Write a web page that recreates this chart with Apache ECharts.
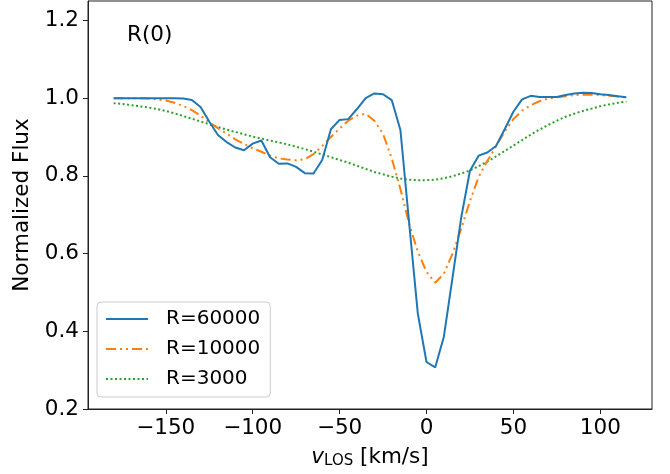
<!DOCTYPE html>
<html>
<head>
<meta charset="utf-8">
<script src="https://cdn.jsdelivr.net/npm/echarts@6/dist/echarts.min.js"></script>
<style>
html,body{margin:0;padding:0;background:#fff;}
#chart{width:670px;height:474px;}
</style>
</head>
<body>
<div id="chart"></div>
<script>
var velocity = [-180,-175,-170,-165,-160,-155,-150,-145,-140,-135,-130,-125,-120,-115,-110,-105,-100,-95,-90,-85,-80,-75,-70,-65,-60,-55,-50,-45,-40,-35,-30,-25,-20,-15,-10,-5,0,5,10,15,20,25,30,35,40,45,50,55,60,65,70,75,80,85,90,95,100,105,110,115];
var fluxR60000 = [1.000,1.000,1.000,1.000,1.000,1.000,1.000,1.000,0.999,0.995,0.977,0.940,0.905,0.887,0.873,0.866,0.883,0.891,0.848,0.831,0.832,0.823,0.807,0.806,0.841,0.920,0.944,0.946,0.972,1.000,1.012,1.010,0.995,0.918,0.680,0.446,0.321,0.307,0.386,0.539,0.693,0.813,0.852,0.860,0.877,0.920,0.965,0.997,1.006,1.003,1.003,1.003,1.008,1.012,1.014,1.013,1.010,1.008,1.005,1.002];
var fluxR10000 = [1.000,1.000,1.000,1.000,0.999,0.997,0.994,0.988,0.980,0.969,0.955,0.938,0.923,0.909,0.894,0.882,0.871,0.862,0.852,0.845,0.842,0.840,0.843,0.856,0.877,0.900,0.922,0.942,0.955,0.960,0.942,0.908,0.845,0.766,0.677,0.605,0.553,0.525,0.548,0.600,0.664,0.735,0.797,0.838,0.876,0.914,0.946,0.968,0.982,0.992,0.999,1.002,1.005,1.008,1.009,1.009,1.008,1.006,1.004,1.002];
var fluxR3000 = [0.987,0.985,0.982,0.979,0.976,0.972,0.967,0.961,0.954,0.947,0.940,0.933,0.926,0.919,0.913,0.907,0.901,0.896,0.891,0.886,0.881,0.875,0.869,0.862,0.855,0.848,0.841,0.834,0.826,0.818,0.810,0.804,0.798,0.793,0.790,0.789,0.789,0.790,0.794,0.799,0.806,0.814,0.825,0.837,0.850,0.864,0.878,0.892,0.906,0.919,0.931,0.942,0.952,0.960,0.967,0.973,0.979,0.984,0.988,0.991];
var seriesNames = ['R=60000','R=10000','R=3000'];
var xTicks = [-150,-100,-50,0,50,100];
var yTicks = [0.2,0.4,0.6,0.8,1.0,1.2];

function pairs(xs, ys){ var out=[]; for(var i=0;i<xs.length;i++){ out.push([xs[i], ys[i]]); } return out; }

var FONT = 'DejaVu Sans';
var FS = 21.5;
var chart = echarts.init(document.getElementById('chart'), null, {renderer:'canvas'});
chart.setOption({
  animation:false,
  backgroundColor:'#ffffff',
  textStyle:{fontFamily:FONT},
  title:{
    text:'R(0)', left:122, top:19,
    textStyle:{fontFamily:FONT, fontSize:FS, fontWeight:'normal', color:'#000'}
  },
  grid:{left:88, right:18, top:1, bottom:65, show:true, borderColor:'#222', borderWidth:1, backgroundColor:'transparent'},
  legend:{
    orient:'vertical', left:97, top:302,
    data:seriesNames,
    itemWidth:42, itemHeight:14, itemGap:10,
    padding:[7,10,8,8],
    backgroundColor:'rgba(255,255,255,0.8)',
    borderColor:'#cccccc', borderWidth:1, borderRadius:4,
    itemStyle:{opacity:0},
    textStyle:{fontFamily:FONT, fontSize:20, color:'#000', lineHeight:20, padding:[0,0,0,13]}
  },
  xAxis:{
    type:'value', min:-194.75, max:129.75,
    name:'{i|v}{s|LOS} [km/s]', nameLocation:'middle', nameGap:37,
    nameTextStyle:{fontFamily:FONT, fontSize:FS, color:'#000',
      rich:{i:{fontFamily:FONT, fontSize:FS, fontStyle:'italic', color:'#000'}, s:{fontFamily:FONT, fontSize:15, color:'#000', padding:[8,0,0,0]}}},
    axisLine:{show:true, onZero:false, lineStyle:{color:'#222', width:1}},
    axisTick:{show:true, inside:false, length:5, lineStyle:{color:'#222', width:1}, customValues:xTicks},
    axisLabel:{fontFamily:FONT, fontSize:FS, color:'#000', margin:8, customValues:xTicks,
      formatter:function(v){ return v<0 ? '\u2212'+Math.abs(v) : String(v); }},
    splitLine:{show:false}
  },
  yAxis:{
    type:'value', min:0.2, max:1.25,
    name:'Normalized Flux', nameLocation:'middle', nameGap:47, nameRotate:90,
    nameTextStyle:{fontFamily:FONT, fontSize:FS, color:'#000'},
    axisLine:{show:true, onZero:false, lineStyle:{color:'#222', width:1}},
    axisTick:{show:true, inside:false, length:5, lineStyle:{color:'#222', width:1}, customValues:yTicks},
    axisLabel:{fontFamily:FONT, fontSize:FS, color:'#000', margin:9, customValues:yTicks,
      formatter:function(v){ return v.toFixed(1); }},
    splitLine:{show:false}
  },
  series:[
    {name:seriesNames[0], type:'line', data:pairs(velocity, fluxR60000), showSymbol:false, symbol:'none',
      lineStyle:{color:'#1f77b4', width:2}, itemStyle:{color:'#1f77b4'}, z:3},
    {name:seriesNames[1], type:'line', data:pairs(velocity, fluxR10000), showSymbol:false, symbol:'none',
      lineStyle:{color:'#ff7f0e', width:2, type:[10,4,2,4,2,4]}, itemStyle:{color:'#ff7f0e'}, z:2},
    {name:seriesNames[2], type:'line', data:pairs(velocity, fluxR3000), showSymbol:false, symbol:'none',
      lineStyle:{color:'#2ca02c', width:2, type:[2,2.5]}, itemStyle:{color:'#2ca02c'}, z:1}
  ]
});
</script>
</body>
</html>
